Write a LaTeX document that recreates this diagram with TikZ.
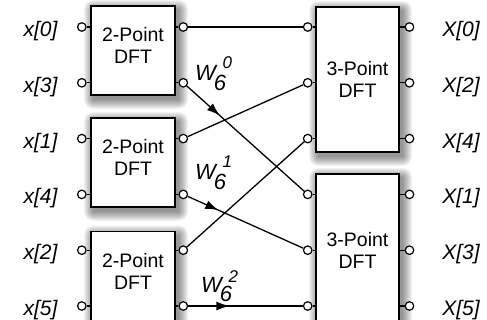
\documentclass[tikz,border=0pt]{standalone}
\usepackage{fontspec}
\setmainfont{Liberation Sans}
\usetikzlibrary{arrows.meta,decorations.markings,backgrounds}
\newcommand{\twd}[2]{W\kern-2pt\raisebox{-9.3pt}{6}\kern-3.5pt\raisebox{#2}{\fontsize{17}{20}\selectfont #1}}
\begin{document}
\begin{tikzpicture}[x=1pt,y=-1pt,
  dftbox/.style={draw, line width=1.7pt, fill=white, inner sep=0pt, align=center, font=\fontsize{19.5}{22}\selectfont},
  twobox/.style={dftbox, minimum width=84pt, minimum height=89pt, text depth=9.5pt},
  threebox/.style={dftbox, minimum width=83pt, minimum height=#1},
  port/.style={draw, circle, line width=1.2pt, fill=white, minimum size=8.5pt, inner sep=0pt},
  wire/.style={line width=1.3pt},
  sig/.style={font=\fontsize{21}{24}\selectfont\itshape, inner sep=0pt, anchor=base},
  twid/.style={font=\fontsize{22}{26}\selectfont\itshape, inner sep=0pt, anchor=base west},
  midarrow/.style={postaction={decorate, decoration={markings, mark=at position #1 with {\arrow{Latex[length=13pt,width=9pt]}}}}}
]
\useasboundingbox (0,0) rectangle (487,320);

% boxes
\node[twobox] (b1) at (133,50.5) {2-Point\\DFT};
\node[twobox] (b2) at (133,162.5) {2-Point\\DFT};
\node[twobox] (b3) at (133,276) {2-Point\\DFT};
\node[threebox=145pt] (c1) at (357.5,79.5) {3-Point\\DFT};
\node[threebox=152pt] (c2) at (357.5,250) {3-Point\\DFT};

% shadows
\begin{scope}[on background layer]
\foreach \b in {b1,b2,b3,c1,c2}{
  \foreach \i in {0,...,9}{
    \fill[black, opacity=0.05, rounded corners=\i pt]
      ([xshift=3pt-\i pt, yshift=-4pt+\i pt]\b.north west) rectangle
      ([xshift=3pt+\i pt, yshift=-4pt-\i pt]\b.south east);
  }
}
\end{scope}

% ports
\foreach \n/\y in {0/27,1/82.8,2/138.6,3/194.4,4/250.2,5/306}{
  \node[port] (i\n) at (81.8,\y) {};
  \node[port] (o\n) at (183.3,\y) {};
  \node[port] (p\n) at (307.7,\y) {};
  \node[port] (q\n) at (409.5,\y) {};
}

% stubs
\foreach \n/\b in {0/b1,1/b1,2/b2,3/b2,4/b3,5/b3}{
  \draw[wire] (i\n) -- (i\n -| \b.west);
  \draw[wire] (o\n) -- (o\n -| \b.east);
}
\foreach \n/\c in {0/c1,1/c1,2/c1,3/c2,4/c2,5/c2}{
  \draw[wire] (p\n) -- (p\n -| \c.west);
  \draw[wire] (q\n) -- (q\n -| \c.east);
}

% connectors
\draw[wire] (o0) -- (p0);
\draw[wire, midarrow=0.28] (o1) -- (p3);
\draw[wire] (o2) -- (p1);
\draw[wire, midarrow=0.265] (o3) -- (p4);
\draw[wire] (o4) -- (p2);
\draw[wire, midarrow=0.36] (o5) -- (p5);

% twiddle labels
\node[twid] (w0) at (195,81) {\twd{0}{12.5pt}};
\node[twid] (w1) at (195,180) {\twd{1}{12pt}};
\node[twid] (w2) at (201,292.3) {\twd{2}{9.6pt}};

% signal labels
\foreach \n/\k/\y in {0/0/27,1/3/82.8,2/1/138.6,3/4/194.4,4/2/250.2,5/5/306}{
  \node[sig] (lx\n) at (40.5,\y+9.5) {x[\k]};
}
\foreach \n/\k/\y in {0/0/27,1/2/82.8,2/4/138.6,3/1/194.4,4/3/250.2,5/5/306}{
  \node[sig] (lX\n) at (461,\y+9.5) {X[\k]};
}
\end{tikzpicture}
\end{document}
